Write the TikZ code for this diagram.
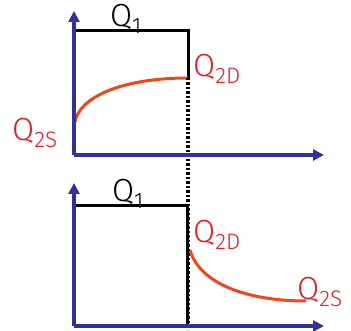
\documentclass[tikz,border=0pt]{standalone}
\usepackage{fontspec}
\setmainfont{Fira Sans Light}
\usetikzlibrary{arrows.meta}
\definecolor{axisblue}{RGB}{50,50,150}
\definecolor{curveor}{RGB}{240,70,30}
\definecolor{labred}{RGB}{225,30,40}
\tikzset{
  axis/.style={draw=axisblue,line width=3.2pt,-{Triangle[length=11pt,width=11pt]}},
  boxline/.style={draw=black,line width=3pt},
  curve/.style={draw=curveor,line width=3pt},
  dotline/.style={draw=black,line width=3.4pt,dash pattern=on 2.5pt off 2pt},
  redlab/.style={text=labred,font=\fontsize{32}{34}\selectfont,inner sep=0pt,anchor=west},
  blacklab/.style={text=black,font=\fontsize{32}{34}\selectfont,inner sep=0pt}
}
\begin{document}
\begin{tikzpicture}[x=1pt,y=-1pt]
\useasboundingbox (0,0) rectangle (351,331);
% top plot
\coordinate (o1) at (74,155);
\coordinate (y1) at (74,11);
\coordinate (x1) at (324,155);
\coordinate (tl1) at (74,31);
\coordinate (tr1) at (188,31);
\coordinate (cr1) at (188,78);
\coordinate (cs1) at (75,122);
\draw[boxline] (o1) -- (tl1) -- (tr1) -- (cr1);
\draw[curve] (cs1) .. controls (79,98) and (120,78) .. (cr1);
% bottom plot
\coordinate (o2) at (74,326);
\coordinate (y2) at (74,183);
\coordinate (x2) at (324,326);
\coordinate (tl2) at (74,206);
\coordinate (tr2) at (187,206);
\coordinate (br2) at (187,326);
\coordinate (cs2) at (190,250);
\coordinate (ce2) at (306,301);
\draw[boxline] (o2) -- (tl2) -- (tr2) -- (br2);
\draw[curve] (cs2) .. controls (200,285) and (250,301) .. (ce2);
% dotted divider
\coordinate (dtop) at (188,78);
\coordinate (dbot) at (188,330);
\draw[dotline] (dtop) -- (dbot);
% axes
\draw[axis] (o1) -- (y1);
\draw[axis] (o1) -- (x1);
\draw[axis] (o2) -- (y2);
\draw[axis] (o2) -- (x2);
% labels
\node[blacklab] (q1a) at (126,19) {Q\textsubscript{1}};
\node[redlab] (q2da) at (193,69) {Q\textsubscript{2D}};
\node[redlab] (q2sa) at (12,133) {Q\textsubscript{2S}};
\node[blacklab] (q1b) at (128,194) {Q\textsubscript{1}};
\node[redlab] (q2db) at (193,235) {Q\textsubscript{2D}};
\node[redlab] (q2sb) at (297,292) {Q\textsubscript{2S}};
\end{tikzpicture}
\end{document}
